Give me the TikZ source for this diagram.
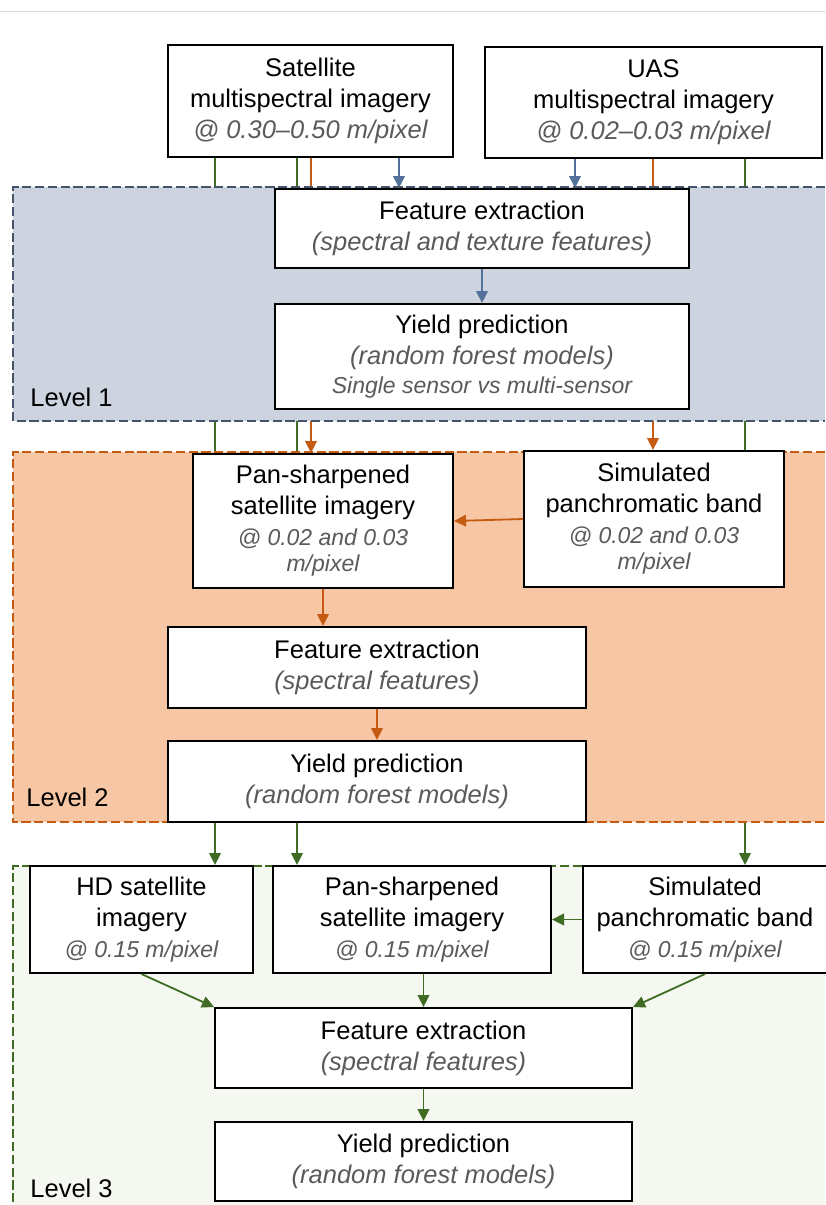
\documentclass[tikz,border=0pt]{standalone}
\usepackage{fontspec}
\setmainfont{Liberation Sans}
\usetikzlibrary{arrows.meta}
\definecolor{rulegrey}{HTML}{D6D6D6}
\definecolor{notegrey}{HTML}{5A5A5A}
\definecolor{lvlonefill}{HTML}{CDD4E0}
\definecolor{lvloneline}{HTML}{44546A}
\definecolor{lvltwofill}{HTML}{F7C6A4}
\definecolor{lvltwoline}{HTML}{C55A11}
\definecolor{lvlthreefill}{HTML}{F4F8F0}
\definecolor{lvlthreeline}{HTML}{3F6B22}
\definecolor{arrowblue}{HTML}{52709A}
\definecolor{arroworange}{HTML}{C55A11}
\definecolor{arrowgreen}{HTML}{3F6B22}
\newcommand{\annot}[1]{{\itshape\color{notegrey}#1}}
\newcommand{\annotsm}[1]{{\fontsize{11.5}{13}\selectfont\itshape\color{notegrey}#1}}
\pgfdeclarelayer{lanes}
\pgfdeclarelayer{panels}
\pgfsetlayers{lanes,panels,main}

\begin{document}
\begin{tikzpicture}[
  x=0.5pt,
  y=-0.5pt,
  >={Triangle[length=6pt,width=5.8pt]},
  box/.style={draw=black, line width=1pt, fill=white, align=center, inner sep=0pt,
    font=\fontsize{12.75}{15.5}\selectfont},
  lvllabel/.style={anchor=west, inner sep=0pt, font=\fontsize{12.75}{15.5}\selectfont},
  flow/.style={line width=0.9pt, ->},
  dashline/.style={line width=1pt, dash pattern=on 4.6pt off 1.8pt}
]
  \useasboundingbox (0,0) rectangle (825,1205);
  \draw[rulegrey, line width=0.75pt] (0,11.5) -- (825,11.5);

  % sources
  \node[box, minimum width=142.5pt, minimum height=56pt] (sat) at (310.5,101)
    {Satellite\\multispectral imagery\\\annot{@ 0.30–0.50 m/pixel}};
  \node[box, minimum width=168.5pt, minimum height=55.5pt] (uas) at (653.5,102.5)
    {UAS\\multispectral imagery\\\annot{@ 0.02–0.03 m/pixel}};

  % level 1
  \node[box, minimum width=207pt, minimum height=39.5pt] (feone) at (482,228.5)
    {Feature extraction\\\annot{(spectral and texture features)}};
  \node[box, minimum width=207pt, minimum height=52.5pt] (ypone) at (482,356.5)
    {Yield prediction\\\annot{(random forest models)}\\[-1pt]\annotsm{Single sensor vs multi-sensor}};
  \node[lvllabel] (lblone) at (30,397) {Level 1};

  % level 2
  \node[box, minimum width=130pt, minimum height=67pt] (pantwo) at (323,521)
    {Pan-sharpened\\satellite imagery\\\annotsm{@ 0.02 and 0.03}\\[-2.5pt]\annotsm{m/pixel}};
  \node[box, minimum width=130pt, minimum height=68pt] (simtwo) at (654,519)
    {Simulated\\panchromatic band\\\annotsm{@ 0.02 and 0.03}\\[-2.5pt]\annotsm{m/pixel}};
  \node[box, minimum width=209pt, minimum height=40.5pt] (fetwo) at (377,667.5)
    {Feature extraction\\\annot{(spectral features)}};
  \node[box, minimum width=209pt, minimum height=40.5pt] (yptwo) at (377,781.5)
    {Yield prediction\\\annot{(random forest models)}};
  \node[lvllabel] (lbltwo) at (26,797) {Level 2};

  % level 3
  \node[box, minimum width=111.5pt, minimum height=53.5pt] (hdthree) at (141.5,919.5)
    {HD satellite\\imagery\\\annotsm{@ 0.15 m/pixel}};
  \node[box, minimum width=139pt, minimum height=53.5pt] (panthree) at (412,919.5)
    {Pan-sharpened\\satellite imagery\\\annotsm{@ 0.15 m/pixel}};
  \node[box, minimum width=122pt, minimum height=53.5pt] (simthree) at (705,919.5)
    {Simulated\\panchromatic band\\\annotsm{@ 0.15 m/pixel}};
  \node[box, minimum width=208.5pt, minimum height=40pt] (fethree) at (423.5,1048)
    {Feature extraction\\\annot{(spectral features)}};
  \node[box, minimum width=208.5pt, minimum height=39.5pt] (ypthree) at (423.5,1161.5)
    {Yield prediction\\\annot{(random forest models)}};
  \node[lvllabel] (lblthree) at (30,1188) {Level 3};

  % lanes running behind the panels
  \coordinate (lgA) at (215,0);
  \coordinate (lgB) at (297,0);
  \coordinate (loA) at (311,0);
  \coordinate (lbA) at (399,0);
  \coordinate (lbB) at (575,0);
  \coordinate (loB) at (653,0);
  \coordinate (lgC) at (745,0);
  \begin{pgfonlayer}{lanes}
    \draw[flow, arrowgreen] (sat.south -| lgA) -- (hdthree.north -| lgA);
    \draw[flow, arrowgreen] (sat.south -| lgB) -- (panthree.north -| lgB);
    \draw[flow, arroworange] (sat.south -| loA) -- (pantwo.north -| loA);
    \draw[flow, arrowblue] (sat.south -| lbA) -- (feone.north -| lbA);
    \draw[flow, arrowblue] (uas.south -| lbB) -- (feone.north -| lbB);
    \draw[flow, arroworange] (uas.south -| loB) -- (simtwo.north -| loB);
    \draw[flow, arrowgreen] (uas.south -| lgC) -- (simthree.north -| lgC);
  \end{pgfonlayer}

  % panels
  \begin{pgfonlayer}{panels}
    \fill[lvlonefill] (13,187) rectangle (825,421);
    \draw[dashline, lvloneline] (825,187) -- (13,187) -- (13,421) -- (825,421);
    \fill[lvltwofill] (13,452) rectangle (825,822);
    \draw[dashline, lvltwoline] (825,452) -- (13,452) -- (13,822) -- (825,822);
    \fill[lvlthreefill] (13,866) rectangle (825,1205);
    \draw[dashline, lvlthreeline] (825,866) -- (13,866) -- (13,1205);
  \end{pgfonlayer}

  % flows inside the levels
  \draw[flow, arrowblue] (feone) -- (ypone);
  \draw[flow, arroworange] (simtwo.west) -- (pantwo.east);
  \draw[flow, arroworange] (pantwo.south) -- (pantwo.south |- fetwo.north);
  \draw[flow, arroworange] (fetwo) -- (yptwo);
  \draw[flow, arrowgreen] (simthree.west) -- (panthree.east);
  \draw[flow, arrowgreen] (hdthree.south) -- (fethree.north west);
  \draw[flow, arrowgreen] (panthree.south -| fethree.north) -- (fethree.north);
  \draw[flow, arrowgreen] (simthree.south) -- (fethree.north east);
  \draw[flow, arrowgreen] (fethree) -- (ypthree);
\end{tikzpicture}
\end{document}
